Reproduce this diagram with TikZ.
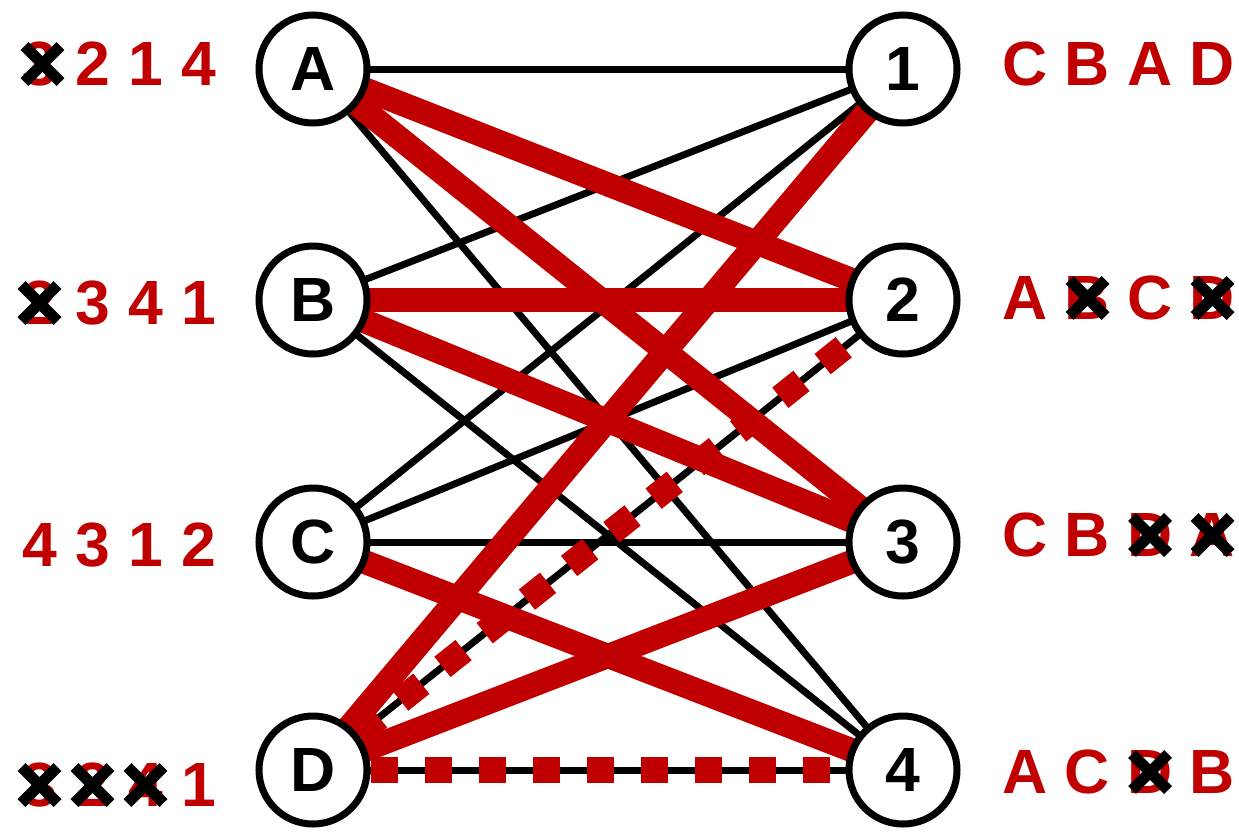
\documentclass[tikz,border=0pt]{standalone}
\usepackage{fontspec}
\setmainfont{Liberation Sans}
\usetikzlibrary{backgrounds}
\definecolor{dred}{RGB}{192,0,0}
\begin{document}
\begin{tikzpicture}[x=1pt,y=-1pt,
  vtx/.style={circle,draw=black,line width=7pt,fill=white,minimum size=108pt,inner sep=0pt,font=\fontsize{62.5}{62.5}\selectfont\bfseries},
  lab/.style={text=dred,inner sep=0pt,font=\fontsize{62.5}{62.5}\selectfont\bfseries},
  thinedge/.style={line width=7pt,black},
  thickedge/.style={line width=24pt,dred},
  reddash/.style={line width=26pt,dred,dash pattern=on 27pt off 27pt},
  xmark/.style={line width=11pt,black},
  xx/.pic={\draw[xmark] (-18,-18) -- (18,18) (-18,18) -- (18,-18);}]
\useasboundingbox (0,0) rectangle (1239,836);
% vertices
\node[vtx] (A) at (313,69) {A};
\node[vtx] (B) at (313,300) {B};
\node[vtx] (C) at (313,542) {C};
\node[vtx] (D) at (313,770) {D};
\node[vtx] (n1) at (903,69) {1};
\node[vtx] (n2) at (903,300) {2};
\node[vtx] (n3) at (903,542) {3};
\node[vtx] (n4) at (903,770) {4};
\begin{pgfonlayer}{background}
% thin black edges
\draw[thinedge] (A.center) -- (n1.center);
\draw[thinedge] (A.center) -- (n4.center);
\draw[thinedge] (B.center) -- (n1.center);
\draw[thinedge] (B.center) -- (n4.center);
\draw[thinedge] (C.center) -- (n1.center);
\draw[thinedge] (C.center) -- (n2.center);
\draw[thinedge] (C.center) -- (n3.center);
\draw[thinedge] (D.center) -- (n2.center);
\draw[thinedge] (D.center) -- (n4.center);
% thick red edges
\draw[thickedge] (A.center) -- (n2.center);
\draw[thickedge] (A.center) -- (n3.center);
\draw[thickedge] (B.center) -- (n2.center);
\draw[thickedge] (B.center) -- (n3.center);
\draw[thickedge] (C.center) -- (n4.center);
\draw[thickedge] (D.center) -- (n1.center);
\draw[thickedge] (D.center) -- (n3.center);
% dashed red edges
\draw[reddash] (D) -- (n2);
\draw[reddash] (D) -- (n4);
\end{pgfonlayer}
% left labels
\node[lab] (la1) at (39.5,64) {3};
\node[lab] (la2) at (92.5,64) {2};
\node[lab] (la3) at (145.5,64) {1};
\node[lab] (la4) at (198.5,64) {4};
\node[lab] (lb1) at (39.5,303) {2};
\node[lab] (lb2) at (92.5,303) {3};
\node[lab] (lb3) at (145.5,303) {4};
\node[lab] (lb4) at (198.5,303) {1};
\node[lab] (lc1) at (39.5,545) {4};
\node[lab] (lc2) at (92.5,545) {3};
\node[lab] (lc3) at (145.5,545) {1};
\node[lab] (lc4) at (198.5,545) {2};
\node[lab] (ld1) at (39.5,785) {3};
\node[lab] (ld2) at (92.5,785) {2};
\node[lab] (ld3) at (145.5,785) {4};
\node[lab] (ld4) at (198.5,785) {1};
% right labels
\node[lab] (r11) at (1025,64) {C};
\node[lab] (r12) at (1087.5,64) {B};
\node[lab] (r13) at (1150,64) {A};
\node[lab] (r14) at (1212.5,64) {D};
\node[lab] (r21) at (1025,298) {A};
\node[lab] (r22) at (1087.5,298) {B};
\node[lab] (r23) at (1150,298) {C};
\node[lab] (r24) at (1212.5,298) {D};
\node[lab] (r31) at (1025,535) {C};
\node[lab] (r32) at (1087.5,535) {B};
\node[lab] (r33) at (1150,535) {D};
\node[lab] (r34) at (1212.5,535) {A};
\node[lab] (r41) at (1025,772) {A};
\node[lab] (r42) at (1087.5,772) {C};
\node[lab] (r43) at (1150,772) {D};
\node[lab] (r44) at (1212.5,772) {B};
% crosses
\pic at ([xshift=3pt]la1.center) {xx};
\pic at (lb1.center) {xx};
\pic at (ld1.center) {xx};
\pic at (ld2.center) {xx};
\pic at (ld3.center) {xx};
\pic at (r22.center) {xx};
\pic at (r24.center) {xx};
\pic at (r33.center) {xx};
\pic at (r34.center) {xx};
\pic at (r43.center) {xx};
\end{tikzpicture}
\end{document}
